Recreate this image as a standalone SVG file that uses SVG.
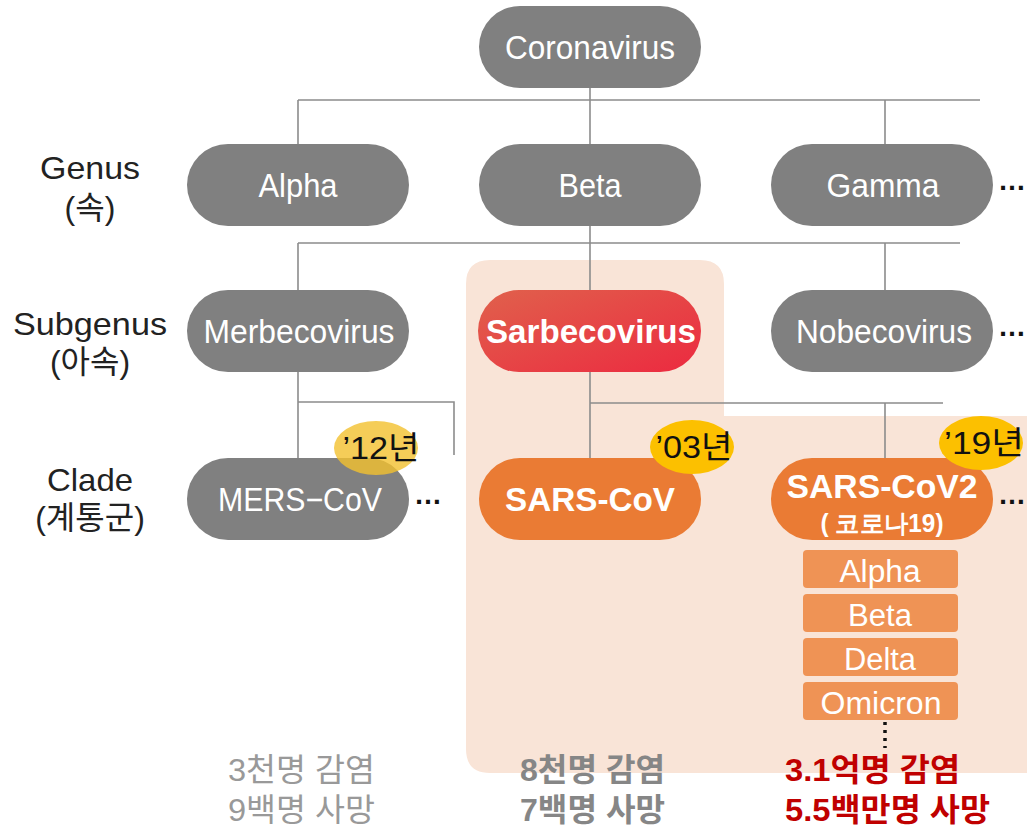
<svg xmlns="http://www.w3.org/2000/svg" width="1027" height="827" viewBox="0 0 1027 827">
<defs>
<linearGradient id="red" x1="0" y1="0" x2="1" y2="1">
<stop offset="0" stop-color="#e0614c"/>
<stop offset="1" stop-color="#ec2a40"/>
</linearGradient>
<style>
.g{fill:#808080}
.o{fill:#ea7b34}
.v{fill:#ef9355}
.t{font-family:"Liberation Sans",Arial,sans-serif;fill:#fff;font-size:33px;text-anchor:middle}
.b{font-weight:bold}
.lab{font-family:"Liberation Sans","Noto Sans CJK KR",sans-serif;fill:#222;font-size:32px;text-anchor:middle}
.ln{stroke:#8c8c8c;stroke-width:1.6;fill:none}
.dots{font-family:"Liberation Sans",sans-serif;font-size:28px;fill:#111;font-weight:bold}
.yr{font-family:"Liberation Sans","Noto Sans CJK KR",sans-serif;font-size:32px;fill:#111;text-anchor:middle}
.st{font-family:"Liberation Sans","Noto Sans CJK KR",sans-serif;font-size:32px}
</style>
</defs>
<rect width="1027" height="827" fill="#fff"/>
<path d="M490,260 H700 Q724,260 724,284 V416 H1027 V773 H490 Q466,773 466,749 V284 Q466,260 490,260 Z" fill="#f9e4d7"/>
<g id="connectors">
<path class="ln" d="M590,88 V144 M298,100 H980 M298,100 V144 M885,100 V144"/>
<path class="ln" d="M590,226 V290 M298,243 H960 M298,243 V290 M885,243 V290"/>
<path class="ln" d="M298,372 V458 M298,402 H454 V455"/>
<path class="ln" d="M590,372 V458 M590,403 H943 M885,403 V458"/>
<path d="M885,722 V748" stroke="#111" stroke-width="3.5" stroke-dasharray="3,5"/>
</g>
<g id="coronavirus"><rect class="g" x="479" y="6" width="222" height="82" rx="41"/><text class="t" x="590" y="59" textLength="170" lengthAdjust="spacingAndGlyphs">Coronavirus</text></g>
<g id="alpha"><rect class="g" x="187" y="144" width="222" height="82" rx="41"/><text class="t" x="298" y="197" textLength="79" lengthAdjust="spacingAndGlyphs">Alpha</text></g>
<g id="beta"><rect class="g" x="479" y="144" width="222" height="82" rx="41"/><text class="t" x="590" y="197" textLength="63" lengthAdjust="spacingAndGlyphs">Beta</text></g>
<g id="gamma"><rect class="g" x="771" y="144" width="222" height="82" rx="41"/><text class="t" x="883" y="197" textLength="113" lengthAdjust="spacingAndGlyphs">Gamma</text><text class="dots" x="998" y="190">…</text></g>
<g id="merbecovirus"><rect class="g" x="187" y="290" width="222" height="82" rx="41"/><text class="t" x="299" y="343" textLength="191" lengthAdjust="spacingAndGlyphs">Merbecovirus</text></g>
<g id="sarbecovirus"><rect fill="url(#red)" x="478" y="290" width="223" height="82" rx="41"/><text class="t b" x="591" y="343" textLength="210" lengthAdjust="spacingAndGlyphs">Sarbecovirus</text></g>
<g id="nobecovirus"><rect class="g" x="771" y="290" width="222" height="82" rx="41"/><text class="t" x="884" y="343" textLength="176" lengthAdjust="spacingAndGlyphs">Nobecovirus</text><text class="dots" x="998" y="336">…</text></g>
<g id="mers"><rect class="g" x="187" y="458" width="222" height="82" rx="41"/><text class="t" x="300" y="511" textLength="164" lengthAdjust="spacingAndGlyphs">MERS−CoV</text><text class="dots" x="414" y="504">…</text>
<ellipse cx="376" cy="448" rx="42" ry="27" fill="#f2c12e" opacity="0.8"/><text class="yr" x="381" y="459" textLength="77" lengthAdjust="spacingAndGlyphs">’12년</text></g>
<g id="sarscov"><rect class="o" x="479" y="458" width="222" height="82" rx="41"/><text class="t b" x="590" y="511" textLength="170" lengthAdjust="spacingAndGlyphs">SARS-CoV</text>
<ellipse cx="692" cy="447" rx="42" ry="27" fill="#fcc000"/><text class="yr" x="694" y="458" textLength="77" lengthAdjust="spacingAndGlyphs">’03년</text></g>
<g id="sarscov2"><rect class="o" x="771" y="458" width="222" height="82" rx="41"/><text class="t b" x="882" y="498" textLength="191" lengthAdjust="spacingAndGlyphs">SARS-CoV2</text><text class="t b" x="882" y="532" style="font-size:25px" textLength="123" lengthAdjust="spacingAndGlyphs">( 코로나19)</text><text class="dots" x="998" y="504">…</text>
<ellipse cx="981" cy="443" rx="42" ry="27" fill="#fcc000"/><text class="yr" x="984" y="454" textLength="80" lengthAdjust="spacingAndGlyphs">’19년</text></g>
<g id="variants">
<rect class="v" x="803" y="550" width="155" height="38" rx="4"/><text class="t" x="880" y="582" style="font-size:31px" textLength="81" lengthAdjust="spacingAndGlyphs">Alpha</text>
<rect class="v" x="803" y="594" width="155" height="38" rx="4"/><text class="t" x="880" y="626" style="font-size:31px" textLength="64" lengthAdjust="spacingAndGlyphs">Beta</text>
<rect class="v" x="803" y="638" width="155" height="38" rx="4"/><text class="t" x="880" y="670" style="font-size:31px" textLength="72" lengthAdjust="spacingAndGlyphs">Delta</text>
<rect class="v" x="803" y="682" width="155" height="38" rx="4"/><text class="t" x="881" y="714" style="font-size:31px" textLength="121" lengthAdjust="spacingAndGlyphs">Omicron</text>
</g>
<g id="labels">
<text class="lab" x="90" y="179" textLength="100" lengthAdjust="spacingAndGlyphs">Genus</text><text class="lab" x="90" y="219">(속)</text>
<text class="lab" x="90" y="335" textLength="154" lengthAdjust="spacingAndGlyphs">Subgenus</text><text class="lab" x="90" y="373">(아속)</text>
<text class="lab" x="90" y="491" textLength="86" lengthAdjust="spacingAndGlyphs">Clade</text><text class="lab" x="90" y="529">(계통군)</text>
</g>
<g id="stats">
<text class="st" x="228" y="781" fill="#999" textLength="147" lengthAdjust="spacingAndGlyphs">3천명 감염</text><text class="st" x="228" y="821" fill="#999" textLength="147" lengthAdjust="spacingAndGlyphs">9백명 사망</text>
<text class="st b" x="520" y="781" fill="#868686" textLength="145" lengthAdjust="spacingAndGlyphs">8천명 감염</text><text class="st b" x="520" y="821" fill="#868686" textLength="145" lengthAdjust="spacingAndGlyphs">7백명 사망</text>
<text class="st b" x="785" y="781" fill="#c00000" textLength="175" lengthAdjust="spacingAndGlyphs">3.1억명 감염</text><text class="st b" x="785" y="821" fill="#c00000" textLength="205" lengthAdjust="spacingAndGlyphs">5.5백만명 사망</text>
</g>
</svg>
